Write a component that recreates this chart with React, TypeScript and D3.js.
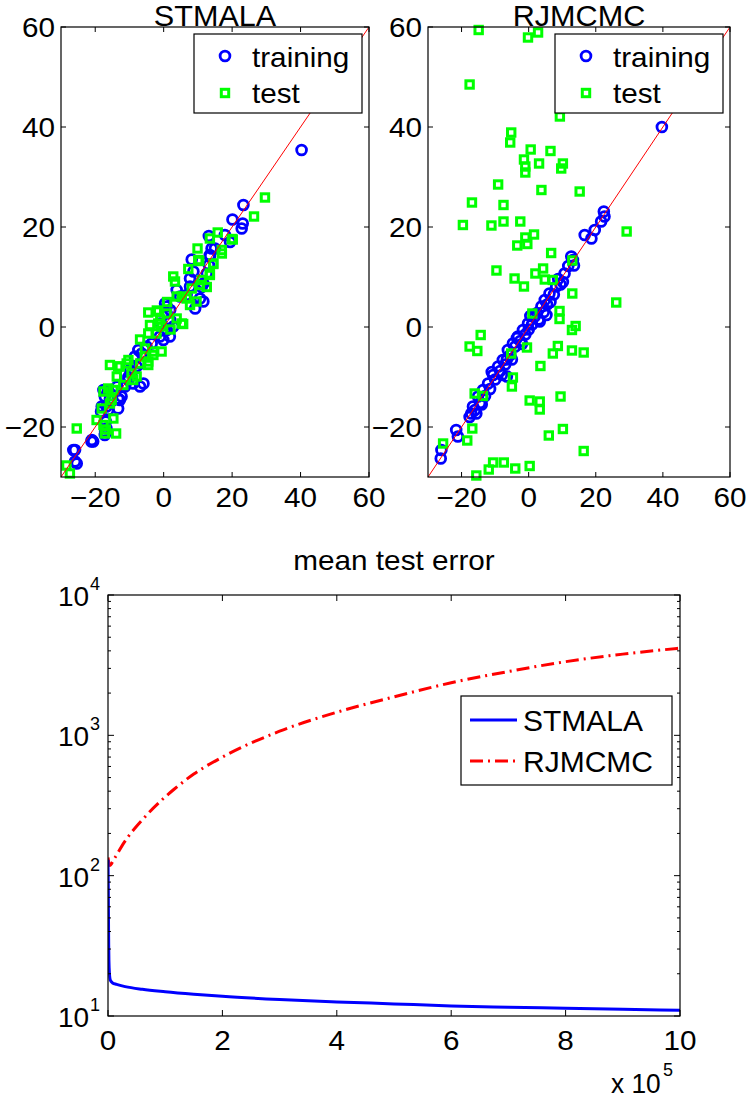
import React from 'react';
import * as d3 from 'd3';

const FONT = '"Liberation Sans", Arial, Helvetica, sans-serif';

// ---------- Scatter data: [true value, predicted value] ----------
const stmalaTraining: [number, number][] = [
  [40.3, 35.4], [23.3, 24.4], [20.1, 21.5], [23.1, 20.7], [22.8, 19.7], [19.4, 17.0], [17.9, 18.4],
  [13.2, 18.2], [14.0, 15.7], [15.0, 15.7], [13.5, 14.4], [13.5, 14.1], [8.2, 13.5], [13.2, 12.4],
  [12.6, 10.7], [8.7, 11.1], [11.6, 8.7], [7.7, 9.7], [7.7, 8.1], [11.1, 8.0], [6.7, 6.4], [10.6, 5.7],
  [11.6, 5.1], [9.2, 3.7], [3.8, 7.4], [4.8, 6.1], [0.4, 4.7], [0.9, 4.1], [1.9, 3.4], [0.9, 2.7],
  [1.9, 1.4], [2.8, 0.1], [0.9, -0.6], [-1.1, 0.7], [-1.1, -1.9], [-0.1, -2.6], [1.8, -1.9], [-3.5, -3.3],
  [-5.0, -3.9], [-7.4, -4.6], [-6.4, -5.3], [-8.4, -5.9], [-6.9, -7.3], [-7.9, -7.9], [-9.9, -8.6],
  [-9.4, -9.3], [-10.3, -10.0], [-5.9, -11.3], [-6.9, -11.9], [-8.9, -11.3], [-10.3, -10.6], [-11.3, -11.9],
  [-13.6, -11.9], [-16.3, -12.7], [-17.6, -12.6], [-17.2, -13.9], [-12.3, -13.9], [-13.3, -14.3],
  [-12.8, -14.6], [-15.7, -14.3], [-18.1, -15.9], [-16.2, -16.6], [-16.7, -15.9], [-13.3, -16.3],
  [-18.3, -16.9], [-16.9, -18.9], [-17.1, -20.9], [-16.7, -20.3], [-17.2, -21.6], [-21.0, -22.6],
  [-20.6, -22.9], [-21.1, -22.9], [-25.9, -24.6], [-25.9, -26.9], [-26.4, -24.6], [-25.4, -27.3],
];

const stmalaTest: [number, number][] = [
  [29.6, 25.9], [26.4, 22.1], [19.9, 17.6], [15.8, 18.9], [13.5, 17.7], [9.9, 15.7], [17.0, 15.4],
  [20.2, 17.5], [17.0, 14.7], [10.1, 13.4], [10.4, 13.2], [14.5, 12.6], [7.2, 11.6], [14.5, 12.7],
  [13.5, 10.4], [13.5, 10.7], [2.8, 10.1], [3.3, 9.1], [11.1, 9.4], [8.2, 7.7], [10.6, 8.4], [12.6, 8.0],
  [5.3, 6.1], [9.6, 5.1], [3.8, 6.1], [6.7, 5.7], [7.7, 4.4], [-4.5, 2.9], [-1.6, 3.1], [0.9, 2.7],
  [-2.0, 3.3], [-4.0, 0.4], [-1.6, 0.7], [-0.6, 0.1], [5.7, 0.6], [3.8, 1.7], [5.3, 0.7], [-6.9, -2.5],
  [-4.5, -1.3], [-2.1, -1.3], [-0.6, -4.9], [-3.0, -4.9], [-3.0, -5.6], [-4.5, -6.9], [-5.5, -5.9],
  [-5.5, -4.3], [-4.5, -7.6], [-6.9, -7.3], [-10.3, -6.6], [-10.8, -7.3], [-12.8, -7.9], [-15.7, -7.6],
  [-13.3, -7.9], [-13.7, -9.9], [-7.9, -9.9], [-9.4, -9.3], [-8.9, -10.6], [-11.8, -11.6], [-16.2, -12.3],
  [-14.7, -12.6], [-17.6, -12.9], [-15.2, -14.6], [-15.7, -15.3], [-18.1, -16.3], [-14.7, -18.3],
  [-19.6, -18.6], [-17.6, -19.6], [-17.2, -21.3], [-13.9, -21.3], [-16.9, -20.5], [-25.4, -20.3],
  [-28.4, -27.7], [-27.4, -29.3], [1.0, 5.0], [-1.0, 1.5], [2.0, -0.5],
];

const rjmcmcTraining: [number, number][] = [
  [39.7, 40.0], [22.4, 23.1], [22.6, 22.1], [21.6, 21.1], [19.7, 19.4], [16.7, 18.4], [18.7, 17.7],
  [12.7, 14.1], [13.2, 13.4], [10.7, 10.7], [8.2, 8.1], [6.2, 6.7], [4.8, 5.4], [3.8, 4.1], [1.8, 2.1],
  [-0.2, 0.7], [-1.7, -0.6], [-3.2, -1.9], [-4.7, -3.3], [-6.2, -4.6], [-7.7, -6.6], [-9.1, -7.9],
  [-10.6, -9.6], [-12.1, -11.3], [-13.6, -12.6], [-15.1, -13.9], [-16.6, -15.9], [-17.1, -17.3],
  [-21.6, -20.6], [-21.1, -21.9], [-26.0, -24.6], [-26.2, -26.3], [9.5, 8.5], [7.5, 6.5], [5.5, 4.5],
  [4.5, 3.0], [2.5, 2.8], [1.0, 0.5], [0.0, -0.5], [-1.0, -1.5], [-2.5, -2.8], [-4.0, -3.9], [-5.5, -5.6],
  [-7.0, -7.5], [-8.5, -8.8], [-10.0, -10.5], [-11.5, -12.4], [-13.0, -13.8], [-14.5, -15.2],
  [-16.0, -16.6], [-17.6, -18.0], [-14.0, -15.5], [-11.0, -9.0], [-6.5, -6.5], [-3.5, -2.2], [3.0, 1.5],
  [6.5, 5.0], [8.8, 9.6], [10.2, 9.0], [11.8, 12.2], [13.5, 12.3], [0.5, 2.2], [-2.0, -3.4], [-8.0, -9.6],
  [-5.0, -6.5], [-6.5, -9.9], [5.3, 2.4], [3.3, 1.1], [-15.6, -17.3], [-14.1, -15.3],
];

const rjmcmcTest: [number, number][] = [
  [-14.9, 59.4], [-0.2, 57.9], [2.8, 58.9], [-17.6, 48.5], [9.3, 42.1], [-5.2, 38.9], [-5.5, 36.9],
  [0.6, 35.5], [6.5, 35.2], [-1.4, 33.5], [-1.0, 32.1], [-1.0, 30.9], [3.1, 32.7], [10.2, 32.7],
  [9.7, 31.7], [-9.1, 28.5], [3.8, 27.4], [15.2, 27.1], [-16.9, 24.9], [-7.5, 24.4], [-19.6, 20.4],
  [-11.1, 20.3], [-7.5, 21.1], [-2.5, 21.1], [29.2, 19.1], [-1.0, 17.9], [1.6, 18.5], [-3.4, 16.3],
  [-0.4, 16.6], [6.7, 14.8], [-9.6, 11.3], [-4.2, 9.7], [-1.4, 8.1], [2.0, 10.7], [4.3, 11.7],
  [4.8, 9.5], [7.2, 9.4], [13.0, 13.3], [13.0, 6.7], [26.1, 4.9], [1.1, 2.7], [9.2, 3.2], [9.2, 1.6],
  [12.9, -0.6], [14.0, 0.2], [-14.3, -1.6], [-17.6, -3.9], [-15.3, -4.8], [-0.5, -4.1], [-5.2, -5.3],
  [8.7, -3.8], [7.2, -5.3], [12.9, -4.7], [16.4, -5.1], [3.5, -7.8], [-4.7, -10.1], [-5.0, -11.9],
  [-16.1, -13.3], [-13.6, -13.8], [0.3, -14.7], [3.3, -14.9], [3.3, -16.5], [9.5, -13.9],
  [-16.8, -20.3], [-18.3, -22.7], [-25.5, -23.3], [6.0, -21.7], [10.2, -20.4], [16.4, -24.8],
  [-10.6, -27.1], [-7.4, -27.1], [-11.9, -28.5], [-4.0, -28.3], [0.3, -27.8], [-15.6, -29.7],
];

const scatterDomain: [number, number] = [-30, 60];
const scatterTicks = [-20, 0, 20, 40, 60];

// ---------- Error curves (x in units of 1e5 iterations) ----------
const stmalaIter = [0, 0.005, 0.01, 0.02, 0.04, 0.08, 0.15, 0.3, 0.6, 1, 1.5, 2, 3, 4, 5, 6, 7, 8, 9, 10];
const stmalaError = [130, 80, 40, 22, 18, 17.2, 16.8, 16.2, 15.5, 14.9, 14.3, 13.8, 13.1, 12.6, 12.2, 11.8, 11.55, 11.35, 11.15, 11.0];
const rjmcmcIter = [0, 0.03, 0.1, 0.28, 0.6, 0.95, 1.15, 1.5, 2, 3, 4, 5, 6, 7, 8, 9, 10];
const rjmcmcError = [135, 118, 130, 172, 250, 349, 411, 530, 700, 1070, 1460, 1880, 2370, 2850, 3350, 3790, 4180];
const iterTicks = [0, 2, 4, 6, 8, 10];
const errorDecades = [1, 2, 3, 4];

const SX = 1.06;
const CIRCLE_R = 4.9;
const CIRCLE_W = 2.8;
const SQ = 7.4;
const SQ_W = 3;

function T({ x, y, children, anchor = 'middle', size = 28, sx = SX }: any) {
  return (
    <text transform={`translate(${x},${y}) scale(${sx},1)`} textAnchor={anchor} fontSize={size} fontFamily={FONT} fill="#000">
      {children}
    </text>
  );
}

const fmt = (v: number) => (v < 0 ? '\u2212' + Math.abs(v) : String(v));

function ScatterPanel({ x0, x1, y0, y1, title, training, test }: any) {
  const xs = d3.scaleLinear().domain(scatterDomain).range([x0, x1]);
  const ys = d3.scaleLinear().domain(scatterDomain).range([y1, y0]);
  const tl = 5;
  const lx = x1 - 175;
  const ly = y0 + 7;
  return (
    <g>
      <rect x={x0} y={y0} width={x1 - x0} height={y1 - y0} fill="#fff" />
      {training.map((d: [number, number], i: number) => (
        <circle key={'a' + i} cx={xs(d[0])} cy={ys(d[1])} r={CIRCLE_R} fill="none" stroke="#0000ff" strokeWidth={CIRCLE_W} />
      ))}
      {test.map((d: [number, number], i: number) => (
        <rect key={'b' + i} x={xs(d[0]) - SQ / 2} y={ys(d[1]) - SQ / 2} width={SQ} height={SQ} fill="none" stroke="#00ff00" strokeWidth={SQ_W} />
      ))}
      <line x1={xs(scatterDomain[0])} y1={ys(scatterDomain[0])} x2={xs(scatterDomain[1])} y2={ys(scatterDomain[1])} stroke="#ff0000" strokeWidth={1} />
      <rect x={x0} y={y0} width={x1 - x0} height={y1 - y0} fill="none" stroke="#000" strokeWidth={1.2} />
      {scatterTicks.map((t) => (
        <g key={'t' + t}>
          <line x1={xs(t)} x2={xs(t)} y1={y1} y2={y1 - tl} stroke="#000" />
          <line x1={xs(t)} x2={xs(t)} y1={y0} y2={y0 + tl} stroke="#000" />
          <line x1={x0} x2={x0 + tl} y1={ys(t)} y2={ys(t)} stroke="#000" />
          <line x1={x1} x2={x1 - tl} y1={ys(t)} y2={ys(t)} stroke="#000" />
          <T x={xs(t)} y={y1 + 30}>{fmt(t)}</T>
          <T x={x0 - 6} y={ys(t) + 10} anchor="end">{fmt(t)}</T>
        </g>
      ))}
      <T x={(x0 + x1) / 2} y={y0 - 1} size={30} sx={1.02}>{title}</T>
      <rect x={lx} y={ly} width={168} height={79} fill="#fff" stroke="#000" strokeWidth={1.2} />
      <circle cx={lx + 31} cy={ly + 22} r={CIRCLE_R} fill="none" stroke="#0000ff" strokeWidth={CIRCLE_W} />
      <T x={lx + 58} y={ly + 33} anchor="start">training</T>
      <rect x={lx + 31 - SQ / 2} y={ly + 59 - SQ / 2} width={SQ} height={SQ} fill="none" stroke="#00ff00" strokeWidth={SQ_W} />
      <T x={lx + 58} y={ly + 69} anchor="start">test</T>
    </g>
  );
}

function ErrorPanel() {
  const x0 = 108, x1 = 680, y0 = 595, y1 = 1016;
  const xs = d3.scaleLinear().domain([0, 10]).range([x0, x1]);
  const ys = d3.scaleLog().domain([10, 10000]).range([y1, y0]);
  const line = d3.line<[number, number]>().x((d) => xs(d[0])).y((d) => ys(d[1])).curve(d3.curveMonotoneX);
  const blue = line(stmalaIter.map((v, i) => [v, stmalaError[i]] as [number, number])) || '';
  const red = line(rjmcmcIter.map((v, i) => [v, rjmcmcError[i]] as [number, number])) || '';
  const minors: number[] = [];
  errorDecades.slice(0, 3).forEach((e) => {
    for (let k = 2; k <= 9; k++) minors.push(k * Math.pow(10, e));
  });
  return (
    <g>
      <defs>
        <clipPath id="errclip">
          <rect x={x0} y={y0} width={x1 - x0} height={y1 - y0} />
        </clipPath>
      </defs>
      <g clipPath="url(#errclip)">
        <path d={red} fill="none" stroke="#ff0000" strokeWidth={3} strokeDasharray="13,5,2,5" />
        <path d={blue} fill="none" stroke="#0000ff" strokeWidth={3} />
      </g>
      <rect x={x0} y={y0} width={x1 - x0} height={y1 - y0} fill="none" stroke="#000" strokeWidth={1.2} />
      {iterTicks.map((t) => (
        <g key={'x' + t}>
          <line x1={xs(t)} x2={xs(t)} y1={y1} y2={y1 - 6} stroke="#000" />
          <line x1={xs(t)} x2={xs(t)} y1={y0} y2={y0 + 6} stroke="#000" />
          <T x={xs(t)} y={1050}>{t}</T>
        </g>
      ))}
      {errorDecades.map((e) => {
        const v = Math.pow(10, e);
        return (
          <g key={'y' + e}>
            <line x1={x0} x2={x0 + 6} y1={ys(v)} y2={ys(v)} stroke="#000" />
            <line x1={x1} x2={x1 - 6} y1={ys(v)} y2={ys(v)} stroke="#000" />
            <T x={58} y={ys(v) + 11} anchor="start" sx={1.0}>10</T>
            <T x={90} y={ys(v) - 5} anchor="start" size={18} sx={1.0}>{e}</T>
          </g>
        );
      })}
      {minors.map((v, i) => (
        <g key={'m' + i}>
          <line x1={x0} x2={x0 + 3} y1={ys(v)} y2={ys(v)} stroke="#000" />
          <line x1={x1} x2={x1 - 3} y1={ys(v)} y2={ys(v)} stroke="#000" />
        </g>
      ))}
      <T x={(x0 + x1) / 2} y={570} size={27} sx={1.1}>mean test error</T>
      <T x={611} y={1093} anchor="start" sx={0.94}>x 10</T>
      <T x={663} y={1076} anchor="start" size={18} sx={1.0}>5</T>
      <rect x={461} y={696} width={211} height={89} fill="#fff" stroke="#000" strokeWidth={1.2} />
      <line x1={470} x2={517} y1={720} y2={720} stroke="#0000ff" strokeWidth={3} />
      <T x={523} y={731} anchor="start" size={30} sx={1.0}>STMALA</T>
      <line x1={470} x2={517} y1={761} y2={761} stroke="#ff0000" strokeWidth={3} strokeDasharray="13,5,2,5" />
      <T x={523} y={772} anchor="start" size={30} sx={1.0}>RJMCMC</T>
    </g>
  );
}

export default function App() {
  return (
    <svg width={747} height={1101} style={{ position: 'absolute', left: 0, top: 0, background: '#fff' }}>
      <rect width={747} height={1101} fill="#fff" />
      <ScatterPanel x0={61} x1={369} y0={27} y1={477} title="STMALA" training={stmalaTraining} test={stmalaTest} />
      <ScatterPanel x0={428} x1={730} y0={27} y1={477} title="RJMCMC" training={rjmcmcTraining} test={rjmcmcTest} />
      <ErrorPanel />
    </svg>
  );
}
